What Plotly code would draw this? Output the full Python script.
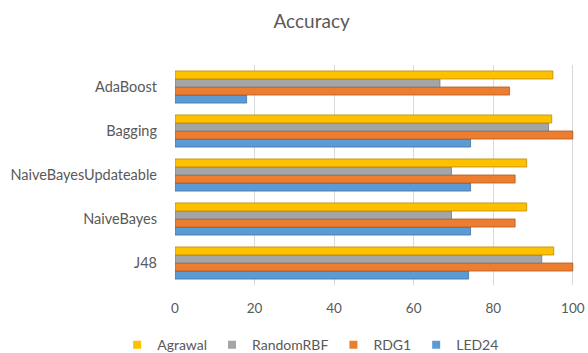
import plotly.graph_objects as go

# Classifier accuracy per data stream generator
classifiers = ["J48", "NaiveBayes", "NaiveBayesUpdateable", "Bagging", "AdaBoost"]
agrawal = [95.2, 88.4, 88.4, 94.7, 95.0]
random_rbf = [92.2, 69.5, 69.5, 93.9, 66.6]
rdg1 = [100.0, 85.5, 85.5, 100.0, 84.1]
led24 = [73.8, 74.3, 74.3, 74.3, 18.0]

x_ticks = [0, 20, 40, 60, 80, 100]

series = [
    ("LED24", led24, "#5B9BD5", "#41719C"),
    ("RDG1", rdg1, "#ED7D31", "#AE5A21"),
    ("RandomRBF", random_rbf, "#A5A5A5", "#787878"),
    ("Agrawal", agrawal, "#FFC000", "#BC8C00"),
]

fig = go.Figure()
for name, vals, color, edge in series:
    fig.add_trace(go.Bar(
        y=classifiers, x=vals, name=name, orientation="h", showlegend=False,
        marker=dict(color=color, line=dict(color=edge, width=0.8)),
    ))

# compact square legend keys
for name, vals, color, edge in series:
    fig.add_trace(go.Scatter(
        x=[None], y=[None], mode="markers", name=name, showlegend=True,
        marker=dict(symbol="square", size=8, color=color),
    ))

font_family = "Lato, 'Open Sans', sans-serif"
fig.update_layout(
    width=588, height=353,
    margin=dict(l=175, r=14, t=65, b=68, autoexpand=False),
    paper_bgcolor="white", plot_bgcolor="white",
    barmode="group", bargap=0.27, bargroupgap=0,
    title=dict(text="Accuracy", x=0.53, xanchor="center", y=0.94, yanchor="middle",
               font=dict(family=font_family, size=19, color="#595959")),
    font=dict(family=font_family, size=14, color="#595959"),
    xaxis=dict(range=[0, 100.3], tickvals=x_ticks, showgrid=True, gridcolor="#D9D9D9",
               gridwidth=1, zeroline=False, showline=False, ticks="",
               ticklabeloverflow="allow", automargin=False,
               tickfont=dict(size=13.5, color="#595959"), ticklabelstandoff=13),
    yaxis=dict(showgrid=False, zeroline=False, showline=False, ticks="",
               automargin=False,
               ticklabelstandoff=17, tickfont=dict(size=14.5, color="#595959")),
    legend=dict(orientation="h", x=0.34, xanchor="center", y=-0.273, yanchor="middle",
                traceorder="reversed", font=dict(size=14, color="#595959"),
                itemwidth=30, tracegroupgap=0),
    showlegend=True,
)

fig.write_html("out.html")
